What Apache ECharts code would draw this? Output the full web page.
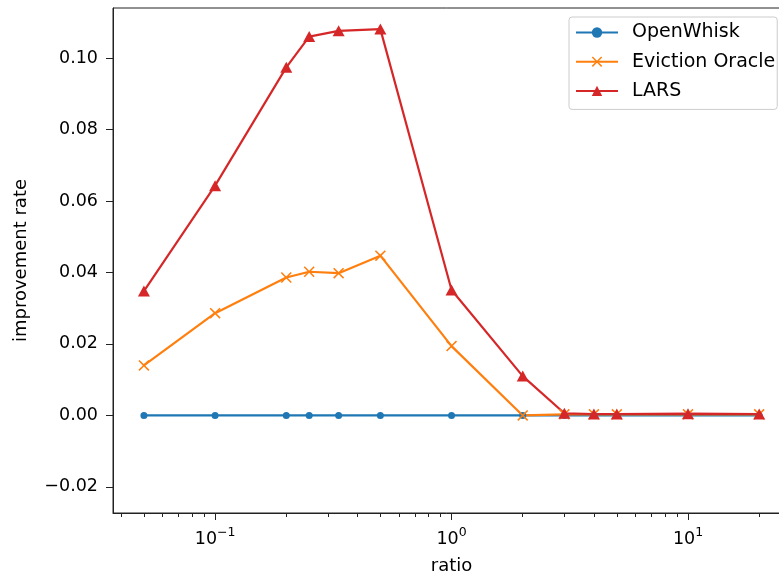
<!DOCTYPE html>
<html>
<head>
<meta charset="utf-8">
<script src="https://cdn.jsdelivr.net/npm/echarts@6/dist/echarts.min.js"></script>
<style>
  html, body { margin: 0; padding: 0; background: #fff; }
  #main { width: 779px; height: 577px; }
</style>
</head>
<body>
<div id="main"></div>
<script>
// x values (ratio, log axis)
var ratios = [0.05, 0.1, 0.2, 0.25, 0.333, 0.5, 1, 2, 3, 4, 5, 10, 20];
var openWhisk = [0, 0, 0, 0, 0, 0, 0, 0, 0, 0, 0, 0, 0];
var evictionOracle = [0.0140, 0.0286, 0.0386, 0.0402, 0.0398, 0.0447, 0.0194, 0.0, 0.0003, 0.0003, 0.0003, 0.0003, 0.0003];
var lars = [0.0348, 0.0643, 0.0974, 0.1060, 0.1076, 0.1081, 0.0351, 0.0110, 0.0006, 0.0004, 0.0004, 0.0005, 0.0004];

var xMajorTicks = [0.1, 1, 10];
var xMajorExp = ['\u22121', '0', '1'];
var xMinorTicks = [0.04, 0.05, 0.06, 0.07, 0.08, 0.09, 0.2, 0.3, 0.4, 0.5, 0.6, 0.7, 0.8, 0.9, 2, 3, 4, 5, 6, 7, 8, 9, 20];
var yTicks = [-0.02, 0, 0.02, 0.04, 0.06, 0.08, 0.10];

var FONT = 'DejaVu Sans';
var FS_TICK = 17.5;
var FS_NAME = 18;
var FS_LEGEND = 19;

function pairs(ys) {
  return ratios.map(function (x, i) { return [x, ys[i]]; });
}

var xShape = 'path://M0,1L1,0L5,4L9,0L10,1L6,5L10,9L9,10L5,6L1,10L0,9L4,5Z';

var myChart = echarts.init(document.getElementById('main'));
myChart.setOption({
  animation: false,
  backgroundColor: '#fff',
  textStyle: { fontFamily: FONT },
  grid: {
    left: 113, top: 8, right: -11, bottom: 64,
    show: true, borderColor: '#222', borderWidth: 1,
    containLabel: false, outerBoundsMode: 'none'
  },
  legend: {
    orient: 'vertical',
    left: 569, top: 17,
    padding: [6, 2, 9, 6],
    itemWidth: 42, itemHeight: 13, itemGap: 10.2,
    backgroundColor: 'rgba(255,255,255,0.8)',
    borderColor: '#cccccc', borderWidth: 1, borderRadius: 3,
    textStyle: { fontFamily: FONT, fontSize: FS_LEGEND, color: '#000', lineHeight: 18, padding: [0, 0, 0, 9] },
    data: ['OpenWhisk', 'Eviction Oracle', 'LARS']
  },
  xAxis: [{
    type: 'log', logBase: 10, min: 0.037, max: 27,
    name: 'ratio', nameLocation: 'middle', nameGap: 44,
    nameTextStyle: { fontFamily: FONT, fontSize: FS_NAME, color: '#000' },
    axisLine: { onZero: false, lineStyle: { color: '#222', width: 1 } },
    axisTick: { customValues: xMajorTicks, length: 7, lineStyle: { color: '#222' } },
    axisLabel: {
      customValues: xMajorTicks, margin: 13,
      fontFamily: FONT, color: '#000',
      formatter: function (v) {
        var i = xMajorTicks.indexOf(+v);
        return i >= 0 ? '{b|10}{s|' + xMajorExp[i] + '}' : '';
      },
      rich: {
        b: { fontFamily: FONT, fontSize: FS_TICK, color: '#000', lineHeight: 22, verticalAlign: 'bottom' },
        s: { fontFamily: FONT, fontSize: 12.5, color: '#000', lineHeight: 13, verticalAlign: 'top' }
      }
    },
    splitLine: { show: false }
  }, {
    type: 'log', logBase: 10, min: 0.037, max: 27, position: 'bottom',
    axisLine: { show: false, onZero: false },
    axisTick: { customValues: xMinorTicks, length: 4, lineStyle: { color: '#222' } },
    axisLabel: { show: false },
    splitLine: { show: false }
  }],
  yAxis: {
    type: 'value', min: -0.0273, max: 0.114,
    name: 'improvement rate', nameLocation: 'middle', nameGap: 83,
    nameTextStyle: { fontFamily: FONT, fontSize: FS_NAME, color: '#000' },
    axisLine: { show: true, onZero: false, lineStyle: { color: '#222', width: 1 } },
    axisTick: { show: true, customValues: yTicks, length: 7, lineStyle: { color: '#222' } },
    axisLabel: {
      customValues: yTicks, margin: 15,
      fontFamily: FONT, fontSize: FS_TICK, color: '#000',
      formatter: function (v) {
        var s = Math.abs(v).toFixed(2);
        return v < -1e-9 ? '\u2212' + s : s;
      }
    },
    splitLine: { show: false }
  },
  series: [{
    name: 'OpenWhisk', type: 'line', data: pairs(openWhisk),
    symbol: 'circle', symbolSize: 7, showAllSymbol: true,
    itemStyle: { color: '#1f77b4' },
    lineStyle: { color: '#1f77b4', width: 2.2 }
  }, {
    name: 'Eviction Oracle', type: 'line', data: pairs(evictionOracle),
    symbol: xShape, symbolSize: 11, showAllSymbol: true,
    itemStyle: { color: '#ff7f0e' },
    lineStyle: { color: '#ff7f0e', width: 2.2 }
  }, {
    name: 'LARS', type: 'line', data: pairs(lars),
    symbol: 'triangle', symbolSize: [12, 11], showAllSymbol: true,
    itemStyle: { color: '#d62728' },
    lineStyle: { color: '#d62728', width: 2.2 }
  }]
});
window.addEventListener('resize', function () { myChart.resize(); });
</script>
</body>
</html>
